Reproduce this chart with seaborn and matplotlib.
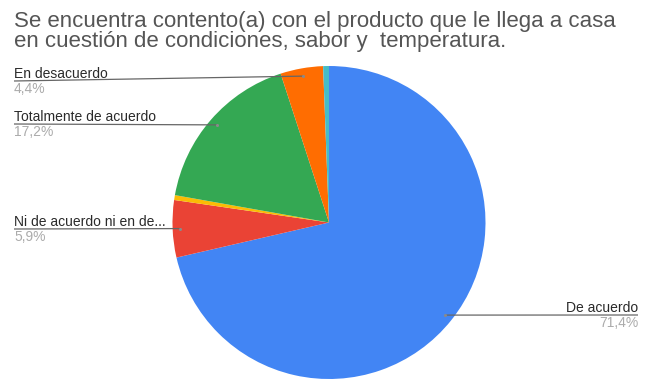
import numpy as np
import matplotlib
matplotlib.use("Agg")
import matplotlib.pyplot as plt
import seaborn as sns

# ---- data ----
labels = ["De acuerdo", "Ni de acuerdo ni en desacuerdo", "Totalmente en desacuerdo",
          "Totalmente de acuerdo", "En desacuerdo", "Otro"]
values = [71.4, 5.9, 0.5, 17.2, 4.4, 0.6]
display_labels = ["De acuerdo", "Ni de acuerdo ni en de...", None,
                  "Totalmente de acuerdo", "En desacuerdo", None]
pct_labels = ["71,4%", "5,9%", None, "17,2%", "4,4%", None]
title_lines = ["Se encuentra contento(a) con el producto que le llega a casa",
               "en cuestión de condiciones, sabor y  temperatura."]

colors = ["#4285F4", "#EA4335", "#FBBC04", "#34A853", "#FF6D01", "#46BDC6"]

sns.set_theme(style="white")
plt.rcParams['font.family'] = ['Liberation Sans', 'DejaVu Sans']

W, H = 646, 381
fig = plt.figure(figsize=(W / 100, H / 100), dpi=100)
ax = fig.add_axes([0, 0, 1, 1])

def Y(y):
    return H - y

cx, cy, R = 329, 222.5, 156.5
wedges, _ = ax.pie(values, colors=colors, startangle=90, counterclock=False,
                   center=(cx, Y(cy)), radius=R, frame=True,
                   wedgeprops=dict(linewidth=0))
ax.set_xlim(0, W)
ax.set_ylim(0, H)
ax.set_aspect("equal")
ax.axis("off")

# label layout: (text x, baseline y, line y, align)
layout = {
    0: (638, 312, 315, "right"),
    1: (14, 226, 229, "left"),
    3: (14, 121, 124, "left"),
    4: (14, 78, 81, "left"),
}

for i, (xt, yb, yl, ha) in layout.items():
    w = wedges[i]
    mid = np.deg2rad((w.theta1 + w.theta2) / 2)
    ax_x = cx + 0.95 * R * np.cos(mid)
    ax_y = Y(cy) + 0.95 * R * np.sin(mid)
    ax.text(xt, Y(yb), display_labels[i], ha=ha, va="baseline",
            fontsize=10, color="#2a2a2a")
    ax.text(xt, Y(yb + 15), pct_labels[i], ha=ha, va="baseline",
            fontsize=10, color="#ababab")
    ax.plot([xt, ax_x], [Y(yl), ax_y], color="#666666", lw=0.9,
            solid_capstyle="butt")
    ax.plot([ax_x], [ax_y], "o", ms=2.2, color="#8a8a8a", mec="none")

ax.text(14, Y(27), title_lines[0], ha="left", va="baseline", fontsize=16, color="#555555")
ax.text(14, Y(47.5), title_lines[1], ha="left", va="baseline", fontsize=16, color="#555555")

fig.savefig("out.png", dpi=100, facecolor="white")
